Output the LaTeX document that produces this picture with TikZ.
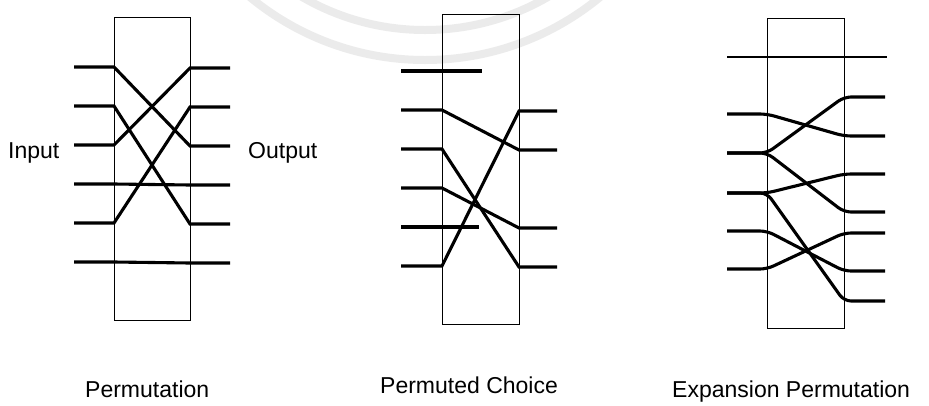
\documentclass[tikz,border=0pt]{standalone}
\usepackage{fontspec}
\setmainfont{Liberation Sans}
\usetikzlibrary{positioning}
\usetikzlibrary{calc}

\tikzset{
  wire/.style={line width=3.1pt, line join=miter},
  softwire/.style={line width=3.1pt, rounded corners=7pt},
  frame/.style={line width=1pt},
  caption/.style={anchor=base west, inner sep=0pt, font=\fontsize{23}{27}\selectfont},
}

\begin{document}
\begin{tikzpicture}[x=1pt, y=-1pt]

        \useasboundingbox (0,0) rectangle (929,405);

        % Faint rings along the top edge
        \begin{scope}
          \clip (0,0) rectangle (929,405);
          \coordinate (ring) at (425,-215);
          \draw[black!8, line width=8pt] (ring) circle[radius=245pt];
          \draw[black!8, line width=8pt] (ring) circle[radius=275pt];
        \end{scope}

        % ---- Permutation ----
        \draw[frame] (114,17) rectangle (190,320);

        % Wire ends: stub start, box left, box right, stub end
        \foreach \i in {1,...,6} {
          \pgfmathsetmacro\yy{67+(\i-1)*39}
          \coordinate (pin\i) at (74,\yy);
          \coordinate (pl\i) at (114,\yy);
          \coordinate (pr\i) at (190,\yy+1);
          \coordinate (pout\i) at (230,\yy+1);
        }

        % Input row -> output row
        \foreach \a/\b in {1/3,2/5,3/1,4/4,5/2,6/6} {
          \draw[wire] (pin\a) -- (pl\a) -- (pr\b) -- (pout\b);
        }

        \node[caption] (inlabel) at (8,158) {Input};
        \node[caption] (outlabel) at (248,158) {Output};
        \node[caption] (permlabel) at (85,397) {Permutation};

        % ---- Permuted Choice ----
        \draw[frame] (442,14) rectangle (519,324);

        \foreach \i in {1,...,6} {
          \pgfmathsetmacro\yy{71+(\i-1)*39}
          \coordinate (cin\i) at (401,\yy);
          \coordinate (cl\i) at (442,\yy);
          \coordinate (cr\i) at (519,\yy+1);
          \coordinate (cout\i) at (557,\yy+1);
        }

        % Dropped rows stop inside the box
        \coordinate (cdrop1) at (482,71);
        \coordinate (cdrop5) at (479,227);
        \draw[wire] (cin1) -- (cdrop1);
        \draw[wire] (cin5) -- (cdrop5);

        \foreach \a/\b in {2/3,3/6,4/5,6/2} {
          \draw[wire] (cin\a) -- (cl\a) -- (cr\b) -- (cout\b);
        }

        \node[caption] (choicelabel) at (380,393) {Permuted Choice};

        % ---- Expansion Permutation ----
        \draw[frame] (767,18) rectangle (844,328);

        % Row passing straight through
        \coordinate (etopin) at (727,57);
        \coordinate (etopout) at (887,57);
        \draw[line width=2.6pt] (etopin) -- (etopout);

        \foreach \i/\yy in {1/114,2/153,3/193,4/231,5/269} {
          \coordinate (ein\i) at (727,\yy);
          \coordinate (el\i) at (767,\yy);
        }
        \foreach \j/\yy in {1/97,2/136,3/174,4/212,5/233,6/271,7/301} {
          \coordinate (er\j) at (844,\yy);
          \coordinate (eout\j) at (885,\yy);
        }

        % Some inputs feed two outputs
        \foreach \a/\b in {1/2,2/1,2/4,3/3,3/7,4/6,5/5} {
          \draw[softwire] (ein\a) -- (el\a) -- (er\b) -- (eout\b);
        }

        \node[caption] (explabel) at (672,397) {Expansion Permutation};

\end{tikzpicture}
\end{document}
